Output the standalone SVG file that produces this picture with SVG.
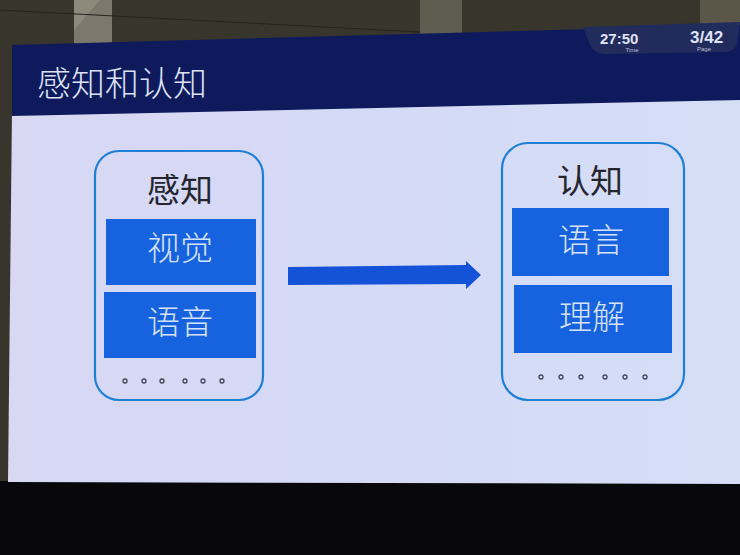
<svg xmlns="http://www.w3.org/2000/svg" width="740" height="555" viewBox="0 0 740 555">
<style>
.card{fill:none;stroke:#1e7fd6;stroke-width:2.2}
.box{fill:#1762de}
.title{font-family:"Noto Sans CJK SC","Liberation Sans",sans-serif;font-size:33px;fill:#25252e;text-anchor:middle}
.lbl{font-family:"Noto Sans CJK SC","Liberation Sans",sans-serif;font-size:33px;font-weight:300;fill:#d6e2f6;text-anchor:middle}
.dot{fill:none;stroke:#444455;stroke-width:1.3}
.tm{font-family:"Liberation Sans",sans-serif;font-weight:bold;fill:#dfe3f5}
.tmsm{font-family:"Liberation Sans",sans-serif;font-size:6px;fill:#b8bedb;text-anchor:middle}
</style>
<defs>
<linearGradient id="scr" x1="0" y1="0" x2="1" y2="0">
<stop offset="0" stop-color="#d8d8f3"/>
<stop offset="0.5" stop-color="#d4daf6"/>
<stop offset="1" stop-color="#d6def6"/>
</linearGradient>
</defs>
<!-- wall -->
<rect x="0" y="0" width="740" height="555" fill="#38352c"/>
<polygon points="74,0 112,0 112,46 74,48" fill="#7c796c"/>
<polygon points="74,0 100,0 74,30" fill="#8d8a7c"/>
<polygon points="420,0 462,0 462,40 420,41" fill="#5f5c50"/>
<polygon points="700,0 740,0 740,24 700,26" fill="#5a5749"/>
<line x1="0" y1="10" x2="420" y2="32" stroke="#25231c" stroke-width="1"/>
<!-- black floor -->
<rect x="0" y="481" width="740" height="74" fill="#07070c"/>
<!-- screen white area -->
<polygon points="12,110 740,96 740,484 8,482" fill="url(#scr)"/>
<!-- header -->
<polygon points="12,45 740,25 740,100 12,116" fill="#0e1a5c"/>
<!-- timer panel -->
<path d="M583,27 L740,22 L737,44 Q734,52 724,52 L605,54 Q595,54 590,45 Z" fill="#222c5c"/>
<text class="tm" x="600" y="44" font-size="15">27:50</text>
<text class="tmsm" x="632" y="52">Time</text>
<text class="tm" x="690" y="43" font-size="17">3/42</text>
<text class="tmsm" x="704" y="51">Page</text>
<!-- title -->
<text x="37" y="96" font-family="'Noto Sans CJK SC','Liberation Sans',sans-serif" font-size="34" font-weight="300" fill="#dde2f4">感知和认知</text>
<!-- connectors -->
<g id="connectors">
<polygon points="288,267 466,265 466,261 481,275 466,289 466,284 288,285" fill="#1452d8"/>
</g>
<!-- left node -->
<g id="perception">
<rect class="card" x="95" y="151" width="168" height="249" rx="24"/>
<text class="title" x="180" y="202">感知</text>
<rect class="box" x="106" y="219" width="150" height="66"/>
<text class="lbl" x="180" y="260">视觉</text>
<rect class="box" x="104" y="292" width="152" height="66"/>
<text class="lbl" x="180" y="334">语音</text>
<circle class="dot" cx="125" cy="381" r="2"/>
<circle class="dot" cx="144" cy="381" r="2"/>
<circle class="dot" cx="162" cy="381" r="2"/>
<circle class="dot" cx="185" cy="381" r="2"/>
<circle class="dot" cx="203" cy="381" r="2"/>
<circle class="dot" cx="222" cy="381" r="2"/>
</g>
<!-- right node -->
<g id="cognition">
<rect class="card" x="502" y="143" width="182" height="257" rx="26"/>
<text class="title" x="590" y="193">认知</text>
<rect class="box" x="512" y="208" width="157" height="68"/>
<text class="lbl" x="591" y="252">语言</text>
<rect class="box" x="514" y="285" width="158" height="68"/>
<text class="lbl" x="592" y="329">理解</text>
<circle class="dot" cx="541" cy="377" r="2"/>
<circle class="dot" cx="561" cy="377" r="2"/>
<circle class="dot" cx="581" cy="377" r="2"/>
<circle class="dot" cx="605" cy="377" r="2"/>
<circle class="dot" cx="625" cy="377" r="2"/>
<circle class="dot" cx="645" cy="377" r="2"/>
</g>
</svg>
